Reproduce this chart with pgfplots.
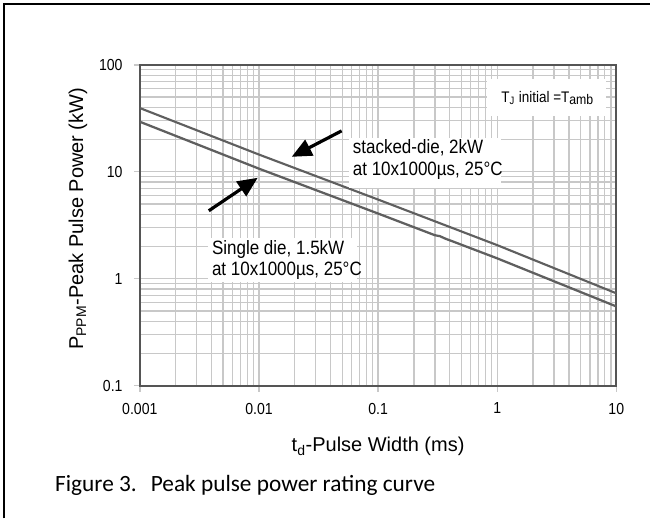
\documentclass[border=0pt]{standalone}
\usepackage{fontspec}
\setmainfont{Liberation Sans}
\newfontfamily\narrowfont{Liberation Sans}[FakeStretch=0.88]
\newfontfamily\capfont{Carlito}
\usepackage{pgfplots}
\pgfplotsset{compat=1.18}
\usetikzlibrary{arrows.meta}
\definecolor{gridgray}{RGB}{200,200,200}
\definecolor{curvegray}{RGB}{95,95,95}
\definecolor{axisgray}{RGB}{85,85,85}

\begin{document}
\begin{tikzpicture}
% pixel frame: 1px = 0.75pt, y downwards
\begin{scope}[x=0.75pt,y=-0.75pt]
  \useasboundingbox (0,0) rectangle (651,519);
  \coordinate (ax) at (140,386);
\end{scope}

\begin{axis}[
    at={(ax)}, anchor=south west,
    scale only axis,
    width=357.75pt, height=240.75pt,
    xmode=log, ymode=log,
    xmin=0.001, xmax=10, ymin=0.1, ymax=100,
    xtick={0.001,0.01,0.1,1,10},
    xticklabels={0.001,0.01,0.1,1,10},
    ytick={0.1,1,10,100},
    yticklabels={0.1,1,10,100},
    grid=both,
    major grid style={color=gridgray, line width=1pt},
    minor grid style={color=gridgray, line width=1pt},
    axis line style={color=axisgray, line width=1.5pt},
    tick pos=left,
    tick align=outside,
    major tick length=4.5pt,
    minor tick length=0pt,
    tick style={color=gridgray, line width=1pt},
    tick label style={font=\narrowfont\fontsize{12}{14}\selectfont},
    xticklabel style={yshift=-5pt},
    yticklabel style={xshift=-5pt},
    xlabel={t\textsubscript{d}-Pulse Width (ms)},
    ylabel={P\textsubscript{PPM}-Peak Pulse Power (kW)},
    label style={font=\fontsize{15}{18}\selectfont},
    xlabel style={at={(axis description cs:0.5,-0.19)}, anchor=center},
    ylabel style={at={(axis description cs:-0.13,0.52)}, anchor=center},
    /pgf/number format/assume math mode=true,
]
% stacked-die, 2kW
\addplot[color=curvegray, line width=1.6pt] coordinates {
    (0.001, 39.5)
    (0.01, 14.5)
    (0.1, 5.5)
    (1, 2.06)
    (10, 0.73)
};
% single die, 1.5kW
\addplot[color=curvegray, line width=1.7pt] coordinates {
    (0.001, 29.4)
    (0.01, 10.7)
    (0.1, 4.07)
    (0.3, 2.55)
    (0.33, 2.50)
    (0.37, 2.36)
    (0.42, 2.24)
    (1, 1.55)
    (10, 0.55)
};
\end{axis}

\begin{scope}[x=0.75pt,y=-0.75pt]
  % outer frame (left and top only)
  \draw[black, line width=1.1pt] (4,519) -- (4,4) -- (651,4);

  % T_J note
  \fill[white] (488,79) rectangle (607,116);
  \node[font=\narrowfont\fontsize{11.5}{13}\selectfont] at (548,98)
    {T\textsubscript{J} initial =T\raisebox{-0.3ex}{\fontsize{10.5}{12}\selectfont amb}};

  % stacked-die note
  \fill[white] (349,138) rectangle (502,188);
  \node[anchor=west, inner sep=0pt, font=\narrowfont\fontsize{14.5}{17}\selectfont] at (353,148) {stacked-die, 2kW};
  \node[anchor=west, inner sep=0pt, font=\narrowfont\fontsize{14.5}{17}\selectfont] at (353,171) {at 10x1000µs, 25°C};

  % single die note
  \fill[white] (208,238) rectangle (357,282);
  \node[anchor=west, inner sep=0pt, font=\narrowfont\fontsize{14.5}{17}\selectfont] at (212,250) {Single die, 1.5kW};
  \node[anchor=west, inner sep=0pt, font=\narrowfont\fontsize{14.5}{17}\selectfont] at (212,271) {at 10x1000µs, 25°C};

  % arrows
  \draw[black, line width=2.4pt, -{Triangle[length=15pt,width=13pt]}] (342,131) -- (292,157);
  \draw[black, line width=2.4pt, -{Triangle[length=15pt,width=13pt]}] (209,211) -- (258,178);

  % caption
  \node[anchor=base west, inner sep=0pt, font=\capfont\fontsize{17.5}{20}\selectfont] at (55,492)
    {Figure 3.\hspace{0.6em}Peak pulse power rating curve};
\end{scope}
\end{tikzpicture}
\end{document}
